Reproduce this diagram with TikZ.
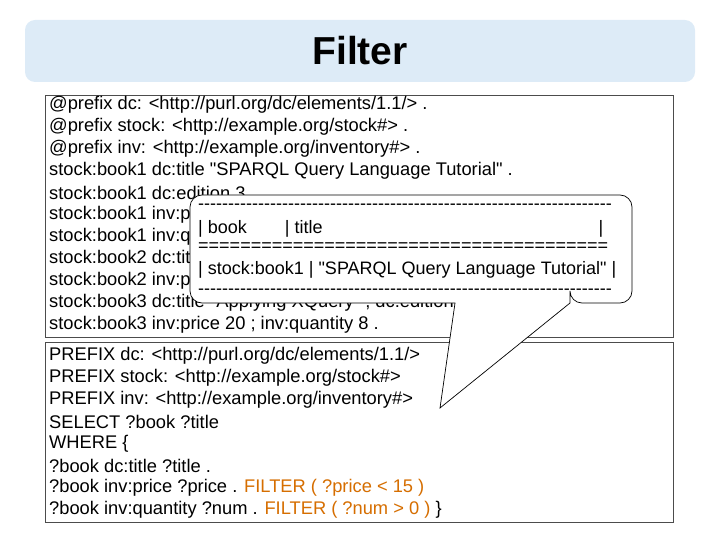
\documentclass[tikz,border=0pt]{standalone}
\usepackage{fontspec}
\setmainfont{Liberation Sans}
\definecolor{titlebg}{RGB}{221,235,247}
\definecolor{filt}{RGB}{214,110,0}
\newcommand\qq{\textquotedbl}
\newcommand\dashrow{\foreach \k in {1,...,69}{-\kern0pt}}
\begin{document}
\begin{tikzpicture}[x=1pt,y=-1pt,
  ln/.style={anchor=west,inner sep=0pt,font=\fontsize{18.3}{18}\selectfont},
  cl/.style={anchor=west,inner sep=0pt,font=\fontsize{18}{18}\selectfont},
  box/.style={draw=black!70,line width=0.8pt,fill=white}]
\useasboundingbox (0,0) rectangle (720,540);
\node[draw=none,fill=titlebg,rounded corners=10pt,minimum width=670pt,minimum height=62pt] (title) at (360,51) {\fontsize{39}{39}\selectfont\bfseries Filter};
\draw[box] (45,95) rectangle (673,337);
\draw[box] (45,342) rectangle (673,522);
\foreach \t [count=\i] in {
 {@prefix dc: <http://purl.org/dc/elements/1.1/> .},
 {@prefix stock: <http://example.org/stock\#> .},
 {@prefix inv: <http://example.org/inventory\#> .},
 {stock:book1 dc:title \qq SPARQL Query Language Tutorial\qq\ .},
 {stock:book1 dc:edition 3 .},
 {stock:book1 inv:price 10 .},
 {stock:book1 inv:quantity 3 .},
 {stock:book2 dc:title \qq SPARQL Query Language (2nd ed)\qq\ .},
 {stock:book2 inv:price 30 ; inv:quantity 1 .},
 {stock:book3 dc:title \qq Applying XQuery\qq\ ; dc:edition 3 .},
 {stock:book3 inv:price 20 ; inv:quantity 8 .}}
 \node[ln] (u\i) at (49,{83+22*\i}) {\t};
\foreach \t [count=\i] in {
 {PREFIX dc: <http://purl.org/dc/elements/1.1/>},
 {PREFIX stock: <http://example.org/stock\#>},
 {PREFIX inv: <http://example.org/inventory\#>},
 {SELECT ?book ?title},
 {WHERE \{},
 {?book dc:title ?title .},
 {?book inv:price ?price . \textcolor{filt}{FILTER ( ?price < 15 )}},
 {?book inv:quantity ?num . \textcolor{filt}{FILTER ( ?num > 0 )} \}}}
 \node[ln] (l\i) at (49,{334+22*\i}) {\t};
\coordinate (tip) at (440,408);
\draw[line width=0.7pt,fill=white,rounded corners=12pt]
  (455,303) -- (190,303) -- (190,195) -- (632,195) -- (632,303) -- (570,303)
  [sharp corners] -- (570,303) -- (tip) -- (455,303) -- cycle;
\node[cl] (c1) at (198,207) {\dashrow};
\node[cl] (c2) at (198,229) {| book\hspace{38pt}| title\hspace{276pt}|};
\node[cl] (c3) at (198,247) {=======================================};
\node[cl] (c4) at (198,270) {| stock:book1 | \qq SPARQL Query Language Tutorial\qq\ |};
\node[cl] (c5) at (198,292) {\dashrow};
\end{tikzpicture}
\end{document}
